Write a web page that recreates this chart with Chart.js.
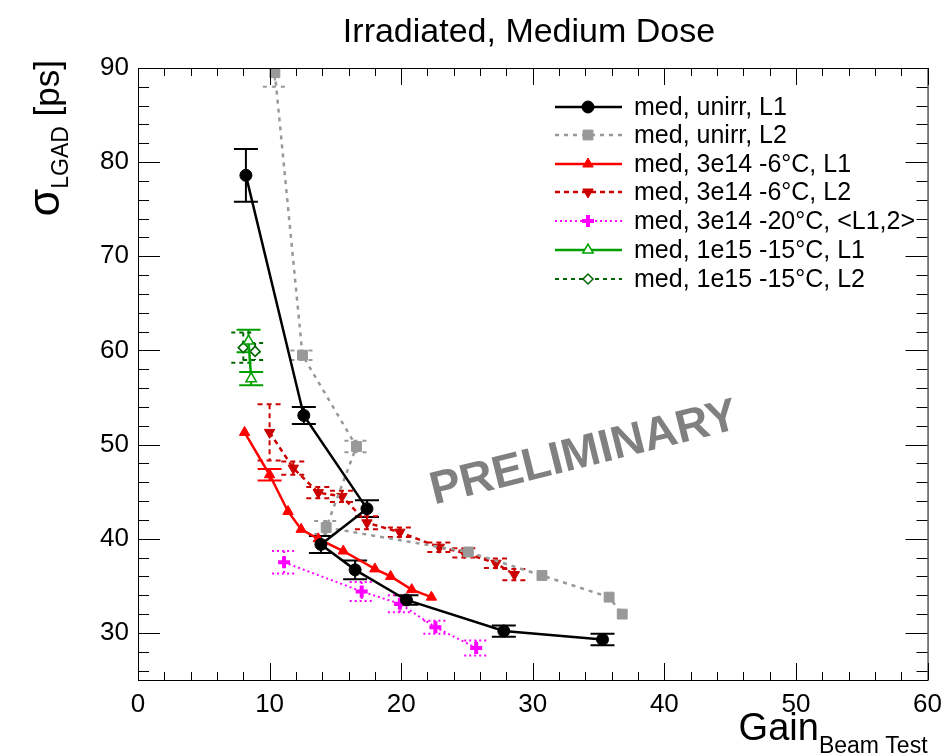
<!DOCTYPE html>
<html>
<head>
<meta charset="utf-8">
<script src="https://cdn.jsdelivr.net/npm/chart.js@4.4.1/dist/chart.umd.min.js"></script>
<style>
  body { margin: 0; background: #fff; }
  canvas { display: block; }
</style>
</head>
<body>
<canvas id="myChart" width="951" height="755"></canvas>
<script>
// ---- data ----
const unirrL1X = [8.2, 12.6, 17.4, 13.9, 16.5, 20.4, 27.8, 35.3];
const unirrL1Y = [78.6, 53.1, 43.2, 39.4, 36.7, 33.5, 30.2, 29.3];
const unirrL1E = [2.8, 0.9, 0.9, 0.9, 1.0, 0.5, 0.6, 0.6];

const unirrL2X = [10.4, 12.5, 16.6, 14.3, 25.1, 30.7, 35.8, 36.8];
const unirrL2Y = [89.5, 59.5, 49.8, 41.2, 38.6, 36.1, 33.8, 32.0];
const unirrL2E = [1.5, 0.5, 0.6, 0.7, 0, 0, 0, 0];

const m6L1X = [8.1, 10.0, 11.4, 12.4, 13.7, 15.6, 18.0, 19.2, 20.8, 22.3];
const m6L1Y = [51.3, 46.8, 42.9, 41.0, 40.0, 38.7, 36.8, 36.0, 34.6, 33.8];
const m6L1E = [0, 0.6, 0, 0, 0, 0, 0, 0, 0, 0];

const m6L2X = [10.0, 11.8, 13.7, 15.5, 17.4, 19.9, 22.9, 24.8, 27.2, 28.6];
const m6L2Y = [51.3, 47.5, 44.9, 44.5, 41.7, 40.7, 39.1, 38.5, 37.4, 36.2];
const m6L2E = [3.0, 0.7, 0.6, 0.6, 0.7, 0.5, 0.5, 0.5, 0.5, 0.6];

const m20X = [11.1, 17.0, 19.9, 22.6, 25.7];
const m20Y = [37.5, 34.4, 33.1, 30.6, 28.4];
const m20E = [1.2, 1.0, 0.9, 0.7, 0.8];

const m15L1X = [8.4, 8.6];
const m15L1Y = [61.0, 57.0];
const m15L1E = [1.2, 0.7];

const m15L2X = [8.0, 8.9];
const m15L2Y = [60.3, 59.9];
const m15L2E = [1.6, 0.9];

const xTicks = [0, 10, 20, 30, 40, 50, 60];
const yTicks = [30, 40, 50, 60, 70, 80, 90];

const FONT = '"Liberation Sans", Arial, Helvetica, sans-serif';

function pts(xs, ys) {
    return xs.map((x, i) => ({ x: x, y: ys[i] }));
}

function series(label, xs, ys, errs, color, dash, style, radius, fill, extra) {
    return Object.assign({
        label: label,
        data: pts(xs, ys),
        errors: errs,
        showLine: true,
        borderColor: color,
        backgroundColor: fill || color,
        borderWidth: 2,
        borderDash: dash,
        pointStyle: style,
        pointRadius: radius,
        pointHoverRadius: radius,
        pointBorderColor: color,
        pointBackgroundColor: fill || color,
        pointBorderWidth: 1,
        tension: 0
    }, extra || {});
}

const datasets = [
    series('med, unirr, L1', unirrL1X, unirrL1Y, unirrL1E, '#000000', [], 'circle', 6, null, { borderWidth: 2.5 }),
    series('med, unirr, L2', unirrL2X, unirrL2Y, unirrL2E, '#999999', [4, 5], 'rect', 7, null, { borderWidth: 2.5 }),
    series('med, 3e14 -6\u00B0C, L1', m6L1X, m6L1Y, m6L1E, '#ff0000', [], 'triangle', 6, null, { borderWidth: 2.5 }),
    series('med, 3e14 -6\u00B0C, L2', m6L2X, m6L2Y, m6L2E, '#cc0000', [5, 4], 'triangle', 6, null, { pointRotation: 180, borderWidth: 2.5 }),
    series('med, 3e14 -20\u00B0C, <L1,2>', m20X, m20Y, m20E, '#ff00ff', [2, 3], 'cross', 6, null, { pointBorderWidth: 4 }),
    series('med, 1e15 -15\u00B0C, L1', m15L1X, m15L1Y, m15L1E, '#00a000', [], 'triangle', 6, '#ffffff', { pointBorderWidth: 1.5, borderWidth: 2.5 }),
    series('med, 1e15 -15\u00B0C, L2', m15L2X, m15L2Y, m15L2E, '#006400', [4, 4], 'rectRot', 5, '#ffffff', { pointBorderWidth: 1.5 })
];

// error bars, drawn under the markers
const errorBars = {
    id: 'errorBars',
    beforeDatasetsDraw(chart) {
        const ctx = chart.ctx, xs = chart.scales.x, ys = chart.scales.y, a = chart.chartArea;
        ctx.save();
        ctx.beginPath();
        ctx.rect(a.left, a.top, a.right - a.left, a.bottom - a.top);
        ctx.clip();
        chart.data.datasets.forEach(ds => {
            ctx.strokeStyle = ds.borderColor;
            ctx.lineWidth = 2;
            ctx.setLineDash(ds.borderDash);
            ds.data.forEach((p, i) => {
                const e = ds.errors[i];
                if (!e) return;
                const px = xs.getPixelForValue(p.x);
                const y1 = ys.getPixelForValue(p.y + e);
                const y2 = ys.getPixelForValue(p.y - e);
                ctx.beginPath();
                ctx.moveTo(px, y1); ctx.lineTo(px, y2);
                ctx.moveTo(px - 12, y1); ctx.lineTo(px + 12, y1);
                ctx.moveTo(px - 12, y2); ctx.lineTo(px + 12, y2);
                ctx.stroke();
            });
        });
        ctx.restore();
    }
};

// ROOT-like frame, ticks, titles, legend and watermark
const rootFrame = {
    id: 'rootFrame',
    afterDraw(chart) {
        const ctx = chart.ctx, xs = chart.scales.x, ys = chart.scales.y, a = chart.chartArea;
        ctx.save();
        ctx.setLineDash([]);
        ctx.strokeStyle = '#000';
        ctx.lineWidth = 1;
        ctx.strokeRect(a.left + 0.5, a.top + 0.5, a.right - a.left, a.bottom - a.top);

        ctx.beginPath();
        for (let v = 0; v <= 60; v += 2) {
            const px = Math.round(xs.getPixelForValue(v)) + 0.5;
            const len = v % 10 === 0 ? 17 : 8;
            ctx.moveTo(px, a.bottom); ctx.lineTo(px, a.bottom - len);
            ctx.moveTo(px, a.top); ctx.lineTo(px, a.top + len);
        }
        for (let v = 26; v <= 90; v += 2) {
            const py = Math.round(ys.getPixelForValue(v)) + 0.5;
            const len = v % 10 === 0 ? 22 : 11;
            ctx.moveTo(a.left, py); ctx.lineTo(a.left + len, py);
            ctx.moveTo(a.right, py); ctx.lineTo(a.right - len, py);
        }
        ctx.stroke();

        // title
        ctx.fillStyle = '#000';
        ctx.textAlign = 'center';
        ctx.textBaseline = 'alphabetic';
        ctx.font = '34px ' + FONT;
        ctx.fillText('Irradiated, Medium Dose', 529, 42);

        // x title
        ctx.textAlign = 'left';
        ctx.font = '38px ' + FONT;
        const gw = ctx.measureText('Gain').width;
        ctx.font = '23px ' + FONT;
        const bw = ctx.measureText('Beam Test').width;
        const gx = a.right - gw - bw;
        ctx.font = '38px ' + FONT;
        ctx.fillText('Gain', gx, 740);
        ctx.font = '23px ' + FONT;
        ctx.fillText('Beam Test', gx + gw, 753);

        // y title
        ctx.save();
        ctx.translate(59, 60);
        ctx.rotate(-Math.PI / 2);
        ctx.textAlign = 'right';
        ctx.font = '35px ' + FONT;
        ctx.fillText(' [ps]', 0, 0);
        let w = ctx.measureText(' [ps]').width;
        ctx.font = '23px ' + FONT;
        ctx.fillText('LGAD', -w, 9);
        w += ctx.measureText('LGAD').width;
        ctx.font = '45px ' + FONT;
        ctx.fillText('\u03C3', -w, 0);
        ctx.restore();

        // watermark
        ctx.save();
        ctx.translate(584, 454);
        ctx.rotate(-14 * Math.PI / 180);
        ctx.textAlign = 'center';
        ctx.textBaseline = 'middle';
        ctx.fillStyle = '#808080';
        ctx.font = 'bold 46px ' + FONT;
        ctx.fillText('PRELIMINARY', 0, 0);
        ctx.restore();

        // legend
        const rows = [107, 135, 164, 192, 221, 250, 279];
        chart.data.datasets.forEach((ds, i) => {
            const y = rows[i];
            ctx.strokeStyle = ds.borderColor;
            ctx.lineWidth = ds.borderWidth;
            ctx.setLineDash(ds.borderDash);
            ctx.beginPath();
            ctx.moveTo(555, y); ctx.lineTo(622, y);
            ctx.stroke();
            ctx.setLineDash([]);
            ctx.fillStyle = ds.pointBackgroundColor;
            ctx.strokeStyle = ds.pointBorderColor;
            ctx.lineWidth = ds.pointBorderWidth;
            Chart.helpers.drawPoint(ctx, {
                pointStyle: ds.pointStyle,
                radius: ds.pointRadius,
                rotation: ds.pointRotation || 0,
                borderWidth: ds.pointBorderWidth
            }, 588, y);
            ctx.fillStyle = '#000';
            ctx.textAlign = 'left';
            ctx.textBaseline = 'middle';
            ctx.font = '25px ' + FONT;
            ctx.fillText(ds.label, 634, y + 1);
        });
        ctx.restore();
    }
};

new Chart(document.getElementById('myChart'), {
    type: 'scatter',
    data: { datasets: datasets },
    options: {
        responsive: false,
        animation: false,
        events: [],
        layout: { padding: { top: 68, right: 18, left: 0, bottom: 0 } },
        plugins: {
            legend: { display: false },
            title: { display: false },
            tooltip: { enabled: false }
        },
        scales: {
            x: {
                type: 'linear',
                min: 0,
                max: 60,
                grid: { display: false, drawTicks: false },
                border: { display: false },
                afterBuildTicks(scale) { scale.ticks = xTicks.map(v => ({ value: v })); },
                afterFit(scale) { scale.height = 75; },
                ticks: {
                    padding: 9,
                    color: '#000',
                    maxRotation: 0,
                    font: { family: FONT, size: 26 }
                }
            },
            y: {
                type: 'linear',
                min: 25,
                max: 90,
                grid: { display: false, drawTicks: false },
                border: { display: false },
                afterBuildTicks(scale) { scale.ticks = yTicks.map(v => ({ value: v })); },
                afterFit(scale) { scale.width = 138; },
                ticks: {
                    padding: 9,
                    color: '#000',
                    font: { family: FONT, size: 26 }
                }
            }
        }
    },
    plugins: [errorBars, rootFrame]
});
</script>
</body>
</html>
